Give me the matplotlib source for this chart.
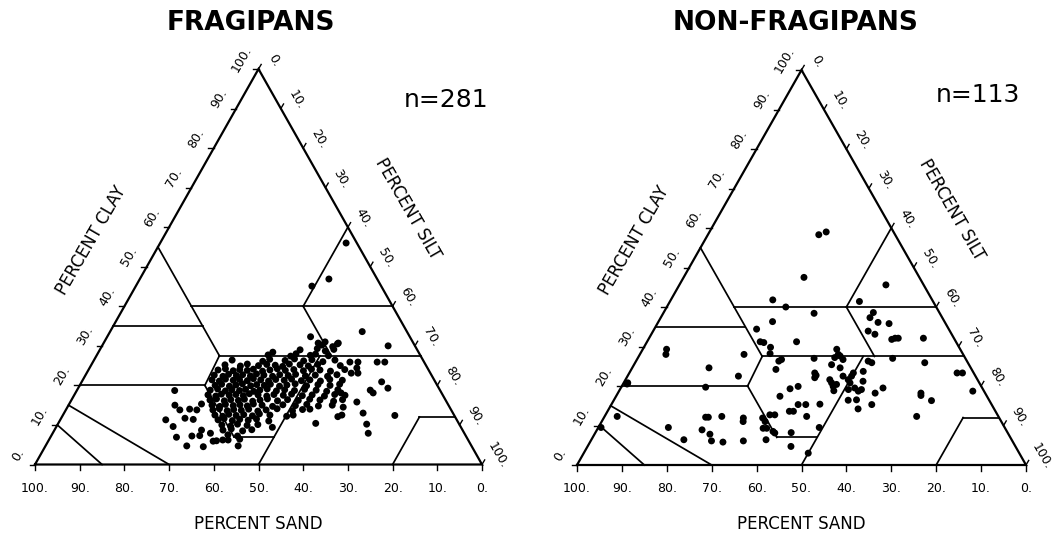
import numpy as np
import matplotlib
matplotlib.use("Agg")
import matplotlib.pyplot as plt

# ---------------- data (percent sand, percent clay) ----------------
frag_sand = [
    20.7, 18.5, 17.1,
    26.2, 22.2, 20.7, 18.6,
    34.0, 29.1, 27.6, 24.6, 23.3, 20.6,
    42.7, 36.0, 34.2, 30.9, 28.6, 26.8, 24.8, 22.6, 19.7,
    44.9, 41.6, 39.8, 37.5, 35.5, 33.7, 32.2, 30.4, 28.1, 26.4, 24.1, 19.2,
    47.1, 45.3, 43.8, 42.2, 40.6, 39.1, 37.3, 35.5, 33.7, 32.1, 30.1, 28.1, 26.1, 24.3, 22.1, 18.7,
    48.6, 46.8, 45.3, 43.7, 42.2, 40.6, 39.0, 37.5, 35.7, 33.9, 32.1, 30.3, 28.3, 26.0, 23.4, 21.1,
    49.7, 48.2, 46.6, 45.0, 43.5, 41.9, 40.3, 38.8, 37.2, 35.4, 33.6, 31.8, 29.8, 27.8, 25.6, 23.3, 20.6,
    49.7, 48.1, 46.6, 45.0, 43.4, 41.8, 40.3, 38.7, 37.2, 35.4, 33.6, 31.6, 29.3, 26.6, 24.0, 21.7,
    51.4, 49.6, 48.1, 46.5, 44.9, 43.4, 41.8, 40.3, 38.5, 36.7, 34.7, 32.6, 30.2, 27.7, 25.5, 22.8,
    52.5, 50.9, 49.4, 47.8, 46.2, 44.7, 43.1, 41.3, 39.5, 37.7, 35.7, 33.7, 31.5, 29.2, 26.6, 24.1, 21.9,
    52.7, 51.1, 49.6, 48.0, 46.4, 44.9, 43.3, 41.5, 39.7, 37.7, 35.3, 33.0, 30.3, 28.1, 25.2, 23.0,
    52.9, 51.3, 49.8, 48.2, 46.6, 45.1, 43.5, 41.7, 39.5, 37.0, 34.3, 31.6, 29.2, 26.0,
    53.3, 51.7, 50.2, 48.6, 47.0, 45.2, 43.4, 41.4, 38.8, 35.6, 33.2,
    53.5, 51.9, 50.3, 48.8, 47.0, 45.2, 43.4, 41.2, 37.6,
    53.4, 51.9, 50.3, 48.5, 46.7, 44.7, 42.2,
    53.2, 51.4, 49.6, 47.6, 45.1,
    53.6, 51.6, 49.3, 47.1,
    53.1, 51.1,
    53.7, 51.0,
    2.4, 10.8, 15.5,
    10.0, 6.0, 22.2, 21.3, 19.6, 16.8, 32.6, 16.6, 14.8, 10.5, 8.8, 15.8, 16.2, 17.7,
    12.0, 11.4, 15.6, 15.3, 20.1, 23.8, 25.1, 20.1, 13.3, 20.7, 21.5, 26.2, 32.0,
    31.5, 36.0, 42.2, 22.5,
    59.4, 65.1, 64.3, 64.9, 63.7, 61.3, 60.1, 58.4, 60.6, 58.9, 61.2, 60.7, 58.4,
    56.9, 55.1, 56.4, 57.2, 54.9, 52.2, 59.5, 56.8,
]
frag_clay = [
    30.2, 29.8, 30.5,
    29.0, 29.3, 28.7, 29.1,
    27.7, 27.4, 28.0, 27.6, 27.9, 27.5,
    26.4, 26.1, 26.6, 26.3, 26.7, 26.2, 26.5, 26.0, 26.4,
    25.2, 24.9, 25.4, 25.0, 25.3, 25.1, 24.8, 25.4, 25.2, 24.9, 25.3, 25.0,
    23.9, 24.2, 23.7, 24.0, 23.8, 24.1, 23.6, 23.9, 24.2, 23.8, 24.0, 23.7, 24.1, 23.9, 23.6, 24.0,
    22.6, 22.3, 22.8, 22.5, 22.7, 22.4, 22.9, 22.6, 22.3, 22.7, 22.5, 22.8, 22.4, 22.6, 22.3, 22.7,
    21.4, 21.1, 21.6, 21.3, 21.5, 21.2, 21.7, 21.4, 21.1, 21.5, 21.3, 21.6, 21.2, 21.4, 21.1, 21.5, 21.3,
    20.0, 20.3, 19.8, 20.1, 20.4, 19.9, 20.2, 20.0, 20.3, 19.8, 20.1, 20.4, 19.9, 20.2, 20.0, 20.3,
    18.8, 19.1, 18.6, 18.9, 18.7, 19.0, 18.5, 18.8, 19.1, 18.6, 18.9, 18.7, 19.0, 18.8, 18.5, 18.9,
    17.6, 17.3, 17.8, 17.5, 17.7, 17.4, 17.9, 17.6, 17.3, 17.7, 17.5, 17.8, 17.4, 17.6, 17.3, 17.7, 17.5,
    16.3, 16.6, 16.1, 16.4, 16.2, 16.5, 16.0, 16.3, 16.6, 16.1, 16.4, 16.2, 16.5, 16.3, 16.0, 16.4,
    15.0, 14.7, 15.2, 14.9, 15.1, 14.8, 15.3, 15.0, 14.7, 15.1, 14.9, 15.2, 14.8, 15.0,
    13.8, 14.1, 13.6, 13.9, 13.7, 14.0, 13.5, 13.8, 14.1, 13.6, 13.9,
    12.5, 12.2, 12.7, 12.4, 12.6, 12.3, 12.8, 12.5, 12.2,
    11.3, 11.6, 11.1, 11.4, 11.2, 11.5, 11.0,
    10.0, 9.7, 10.2, 9.9, 10.1,
    8.7, 9.0, 8.5, 8.8,
    7.5, 7.2,
    6.2, 6.4,
    56.0, 46.9, 45.1,
    33.6, 30.0, 32.3, 30.7, 31.0, 30.7, 28.4, 25.9, 25.9, 25.9, 25.9, 24.4, 23.1, 23.1,
    20.9, 19.3, 18.8, 18.1, 15.8, 14.5, 12.5, 13.0, 12.4, 10.2, 7.9, 12.1, 10.4,
    14.0, 12.5, 9.4, 18.1,
    18.7, 11.3, 9.6, 6.9, 4.7, 7.2, 4.5, 8.7, 11.7, 11.4, 15.0, 13.8, 14.0,
    13.8, 15.3, 6.0, 5.9, 6.2, 4.7, 7.3, 7.9,
]

nonfrag_sand = [
    17.0, 15.0,
    25.7, 8.4, 35.5, 33.5, 28.0, 16.4, 38.3, 42.8,
    43.6, 42.9, 42.0, 42.9, 48.8, 35.5,
    27.5, 27.8, 27.6, 29.0, 27.4, 30.6, 29.1,
    33.7, 41.9, 41.1, 43.6,
    35.4, 36.0, 35.4,
    32.9, 32.9, 33.0, 33.4, 32.0,
    29.5, 28.8, 27.6, 26.8, 28.8, 30.0, 28.4, 28.0, 27.1, 25.7, 24.4, 22.0, 21.4,
    24.5, 22.1, 31.4, 29.5, 30.3, 26.7,
    16.2, 9.6, 3.7, 2.5, 2.5, 14.3, 14.6, 12.9, 18.2,
    6.8, 13.1, 12.4, 14.0, 12.6,
    14.9, 14.7, 16.1, 18.2, 17.1,
    65.4, 66.2, 58.3, 52.8, 61.5, 78.6, 78.3, 84.9, 89.9, 74.9, 73.0,
    67.7, 66.5, 65.3, 64.7, 67.0, 64.6, 61.6, 57.0, 57.5, 59.9,
    52.7, 52.6, 50.7, 49.6, 53.9, 53.1, 52.1, 51.9, 54.7,
    48.2, 50.0, 46.1, 42.9, 40.8, 45.0, 45.9, 43.1, 41.4, 42.7, 38.2, 41.3, 47.0,
]
nonfrag_clay = [
    58.3, 59.0,
    47.5, 45.6, 41.8, 40.0, 38.4, 41.4, 36.3, 34.4,
    31.2, 31.0, 29.8, 28.2, 28.0, 31.2,
    29.3, 28.0, 27.6, 27.2, 26.7, 25.4, 24.6,
    27.0, 26.3, 26.7, 24.2,
    23.3, 22.1, 22.7,
    21.6, 20.8, 19.9, 18.8, 20.4,
    22.5, 21.6, 22.5, 23.3, 20.8, 19.1, 19.5, 18.7, 19.1, 21.2, 23.7, 26.3, 25.9,
    18.2, 19.5, 16.4, 16.5, 14.2, 15.3,
    27.0, 25.9, 23.3, 23.3, 18.7, 18.2, 17.6, 16.3, 12.3,
    32.1, 32.1, 32.1, 31.8, 35.8,
    36.1, 38.6, 37.3, 33.9, 33.1,
    29.3, 28.0, 24.6, 22.5, 19.7, 20.5, 20.8, 12.3, 9.5, 9.5, 6.4,
    8.9, 7.8, 12.1, 12.1, 6.1, 5.8, 12.3, 11.9, 11.0, 6.1,
    11.9, 11.0, 12.7, 12.7, 9.3, 9.3, 8.5, 8.1, 6.4,
    8.2, 4.7, 17.4, 19.3, 19.9, 13.6, 13.6, 15.3, 15.3, 12.3, 15.4, 9.5, 3.0,
]

tick_values = [0, 10, 20, 30, 40, 50, 60, 70, 80, 90, 100]
tick_labels = ["0.", "10.", "20.", "30.", "40.", "50.", "60.", "70.", "80.", "90.", "100."]
panel_titles = ["FRAGIPANS", "NON-FRAGIPANS"]
panel_counts = ["n=281", "n=113"]

# USDA texture-class boundaries, as (sand, clay) end points
class_lines = [
    [(45, 40), (0, 40)],
    [(0, 60), (20, 40)],
    [(45, 55), (45, 27.5)],
    [(65, 35), (45, 35)],
    [(20, 40), (20, 27.5)],
    [(45, 27.5), (0, 27.5)],
    [(80, 20), (52, 20)],
    [(45, 27.5), (52, 20)],
    [(52, 20), (52, 7)],
    [(52, 7), (43, 7)],
    [(50, 0), (22.5, 27.5)],
    [(85, 15), (70, 0)],
    [(90, 10), (85, 0)],
    [(8, 12), (0, 12)],
    [(8, 12), (20, 0)],
]

# ---------------- drawing ----------------
W, H = 1055, 535
H3 = np.sqrt(3) / 2


def tern(sand, clay):
    sand = np.asarray(sand, dtype=float)
    clay = np.asarray(clay, dtype=float)
    return 100 - sand - clay / 2, clay * H3


fig = plt.figure(figsize=(W / 100, H / 100), dpi=100)
fig.patch.set_facecolor("white")

boxes = [(35, 482, 464.5, 69), (577, 1026, 465, 70)]
datasets = [(frag_sand, frag_clay), (nonfrag_sand, nonfrag_clay)]
title_pos = [(251, 23), (796, 23)]
count_pos = [(446, 100), (978, 95)]

for k in range(2):
    x0, x1, yb, yt = boxes[k]
    ax = fig.add_axes([x0 / W, 1 - yb / H, (x1 - x0) / W, (yb - yt) / H])
    ax.set_xlim(0, 100)
    ax.set_ylim(0, 100 * H3)
    ax.axis("off")

    # outline
    ox, oy = tern([100, 0, 0, 100], [0, 0, 100, 0])
    ax.plot(ox, oy, color="black", lw=1.6, clip_on=False, solid_joinstyle="miter")

    # class boundaries
    for seg in class_lines:
        sx, sy = tern([p[0] for p in seg], [p[1] for p in seg])
        ax.plot(sx, sy, color="black", lw=1.25, clip_on=False)

    # ticks and tick labels
    for v, lab in zip(tick_values, tick_labels):
        # clay (left edge)
        cx, cy = tern(100 - v, v)
        ax.plot([cx, cx - 1.2], [cy, cy], color="black", lw=1.0, clip_on=False)
        ax.annotate(lab, xy=(cx, cy), xytext=(-12.5, 7), textcoords="offset points",
                    ha="center", va="center", rotation=60, fontsize=9)
        # silt (right edge): silt = v
        rx, ry = tern(0, 100 - v)
        ax.plot([rx, rx + 0.6], [ry, ry + 1.0], color="black", lw=1.0, clip_on=False)
        ax.annotate(lab, xy=(rx, ry), xytext=(11.5, 6.5), textcoords="offset points",
                    ha="center", va="center", rotation=-60, fontsize=9)
        # sand (bottom)
        bx, by = tern(v, 0)
        ax.plot([bx, bx], [by, by - 1.3], color="black", lw=1.0, clip_on=False)
        ax.annotate(lab, xy=(bx, by), xytext=(0, -17), textcoords="offset points",
                    ha="center", va="center", fontsize=9)

    # axis titles
    lx, ly = tern(51, 49)
    ax.annotate("PERCENT CLAY", xy=(lx, ly), xytext=(-38, 22), textcoords="offset points",
                ha="center", va="center", rotation=60, fontsize=12)
    sx_, sy_ = tern(0, 57)
    ax.annotate("PERCENT SILT", xy=(sx_, sy_), xytext=(38.5, 22), textcoords="offset points",
                ha="center", va="center", rotation=-60, fontsize=12)
    bx, by = tern(50, 0)
    ax.annotate("PERCENT SAND", xy=(bx, by), xytext=(0, -42.5), textcoords="offset points",
                ha="center", va="center", fontsize=12)

    # data points
    px, py = tern(*datasets[k])
    ax.scatter(px, py, s=25, color="black", edgecolors="none", clip_on=False, zorder=3)

    fig.text(title_pos[k][0] / W, 1 - title_pos[k][1] / H, panel_titles[k],
             ha="center", va="center", fontsize=19, fontweight="bold")
    fig.text(count_pos[k][0] / W, 1 - count_pos[k][1] / H, panel_counts[k],
             ha="center", va="center", fontsize=18)

fig.savefig("out.png", dpi=100, facecolor="white")
